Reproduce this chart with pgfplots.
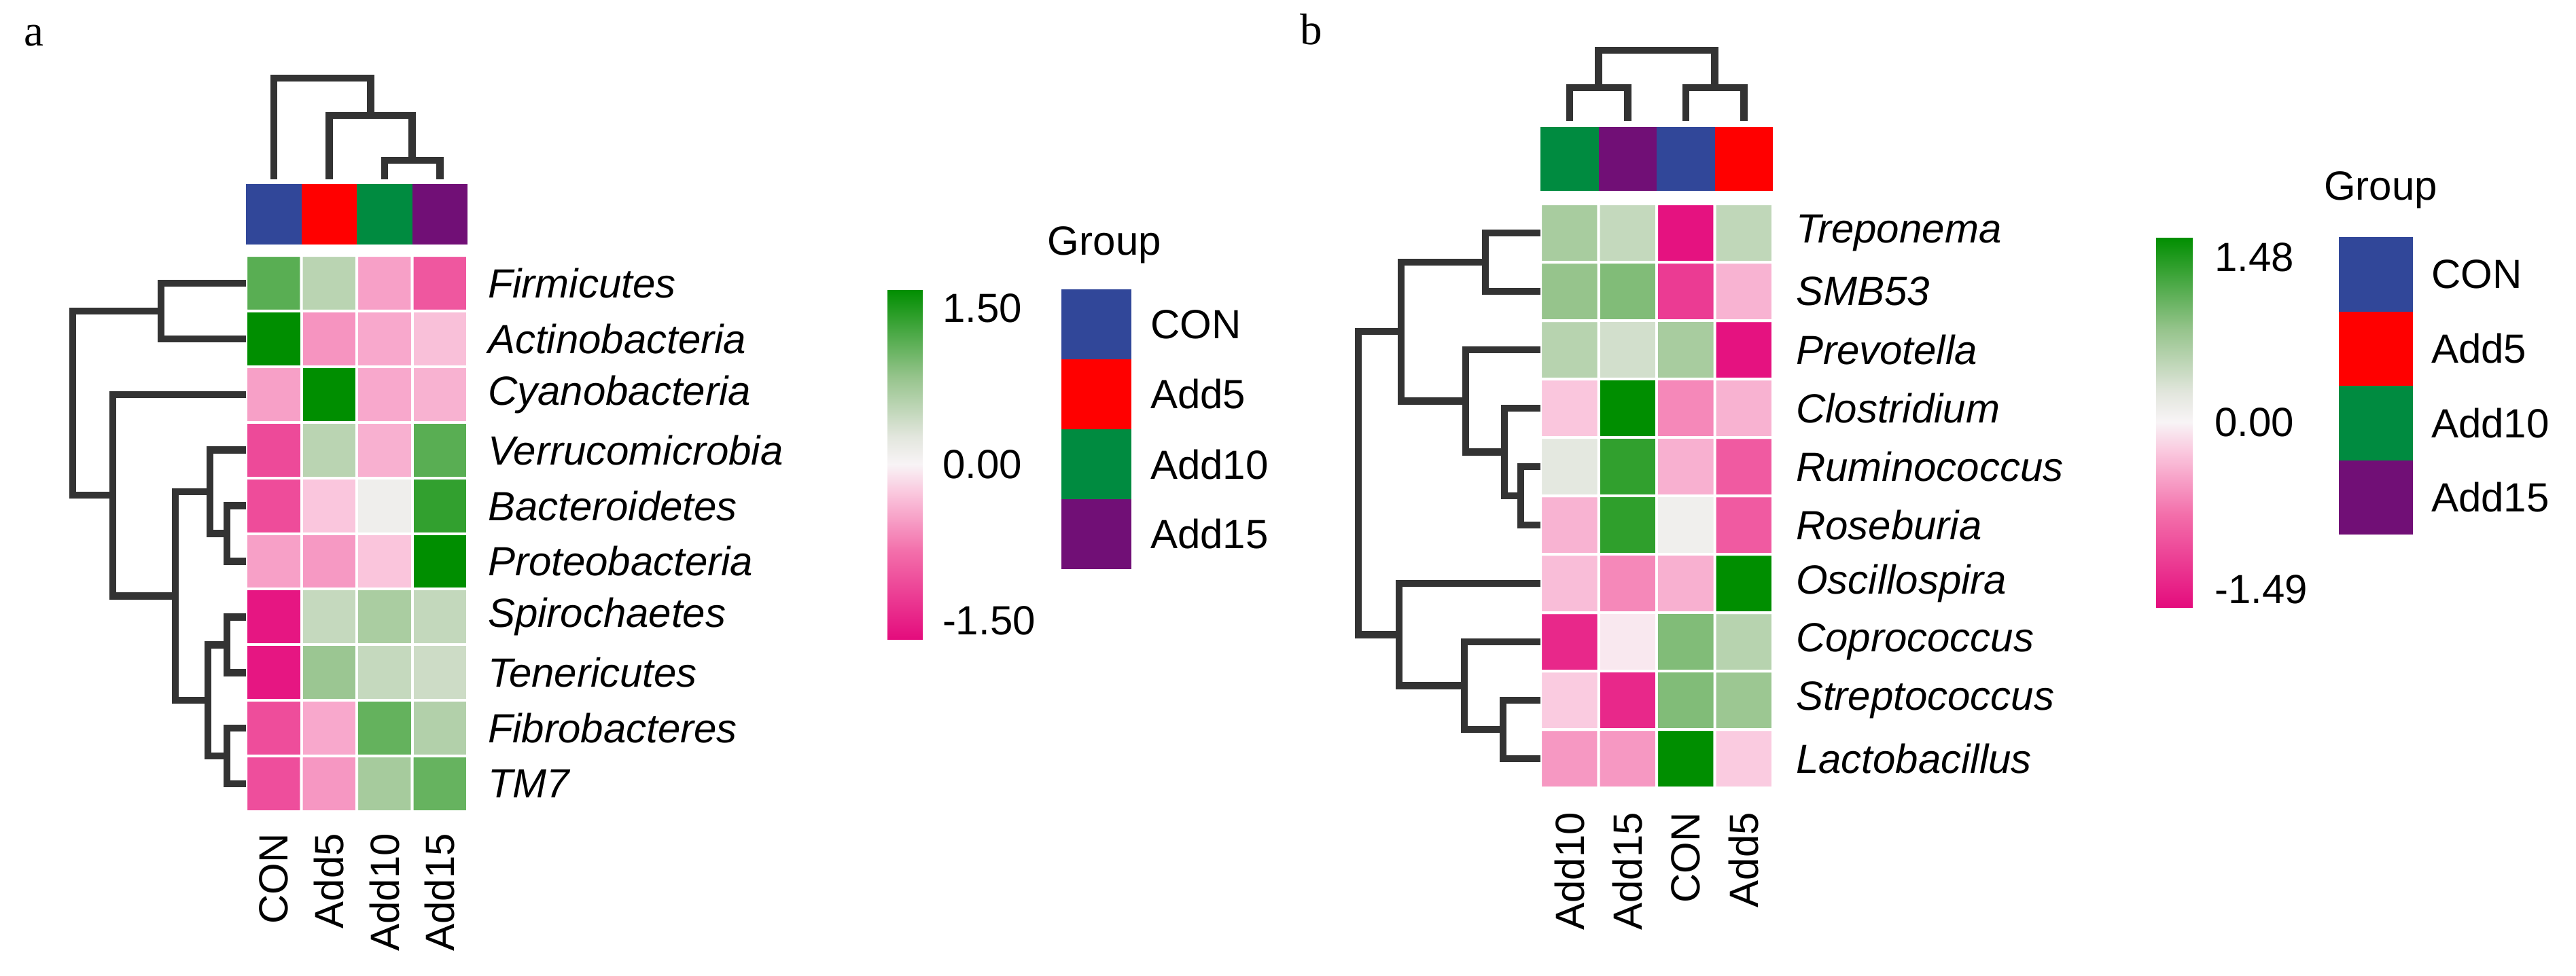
\documentclass[border=0pt]{standalone}
\usepackage{pgfplots}
\pgfplotsset{compat=1.18}
\usepackage{fontspec}
\setmainfont{Liberation Sans}
\newfontfamily\tnr{Liberation Serif}

\definecolor{cCON}{RGB}{49,71,153}
\definecolor{cA5}{RGB}{255,0,0}
\definecolor{cA10}{RGB}{0,139,64}
\definecolor{cA15}{RGB}{113,15,118}
\definecolor{dgray}{RGB}{51,51,51}
\newcommand{\fs}{\fontsize{12}{14}\selectfont}

\pgfplotsset{
  colormap={pkgr}{rgb255(0)=(228,12,125); rgb255(25)=(243,110,170); rgb255(42)=(250,200,222);
    rgb255(50)=(248,244,246); rgb255(58)=(226,230,221); rgb255(75)=(150,196,140); rgb255(100)=(0,142,0)},
  colorbar shift/.style={xshift=0pt},
  dendro/.style={draw=dgray, line width=2.1pt, line join=miter, mark=none},
  heat/.style={
    anchor=north west, scale only axis,
    xmin=0.5, xmax=4.5, ymin=0.5, ymax=10.5,
    enlargelimits=false, clip=false,
    axis line style={draw=none}, tick style={draw=none}, major tick length=0pt,
    xtick={1,2,3,4}, ytick={1,...,10},
    ticklabel style={font=\fs},
    xticklabel style={rotate=90, anchor=east, inner sep=0pt},
    yticklabel pos=right,
    yticklabel style={anchor=west, inner sep=0pt, font=\fs\itshape},
    colormap name=pkgr,
  },
  cbar/.style={
    at={(parent axis.north east)}, anchor=north west,
    scale only axis,
    axis line style={draw=none}, tick style={draw=none}, major tick length=0pt,
    yticklabel style={font=\fs, inner sep=0pt, anchor=west},
  },
}

% panel a: rows bottom to top (TM7 ... Firmicutes), cols CON, Add5, Add10, Add15
\pgfplotstableread{
x y c
1 1 -1.11
2 1 -0.58
3 1 0.72
4 1 1.11
1 2 -1.12
2 2 -0.47
3 2 1.12
4 2 0.63
1 3 -1.59
2 3 0.80
3 3 0.49
4 3 0.43
1 4 -1.59
2 4 0.49
3 4 0.69
4 4 0.50
1 5 -0.52
2 5 -0.57
3 5 -0.29
4 5 1.68
1 6 -1.13
2 6 -0.28
3 6 0.11
4 6 1.40
1 7 -1.15
2 7 0.57
3 7 -0.42
4 7 1.18
1 8 -0.52
2 8 1.68
3 8 -0.47
4 8 -0.41
1 9 1.68
2 9 -0.60
3 9 -0.47
4 9 -0.32
1 10 1.18
2 10 0.57
3 10 -0.52
4 10 -1.04
}\phyla

% panel b: rows bottom to top (Lactobacillus ... Treponema), cols Add10, Add15, CON, Add5
\pgfplotstableread{
x y c
1 1 -0.56
2 1 -0.56
3 1 1.66
4 1 -0.24
1 2 -0.24
2 2 -1.41
3 2 0.95
4 2 0.79
1 3 -1.41
2 3 -0.07
3 3 0.95
4 3 0.59
1 4 -0.33
2 4 -0.66
3 4 -0.41
4 4 1.66
1 5 -0.39
2 5 1.40
3 5 0.10
4 5 -0.99
1 6 0.24
2 6 1.39
3 6 -0.41
4 6 -0.99
1 7 -0.27
2 7 1.66
3 7 -0.66
4 7 -0.40
1 8 0.59
2 8 0.39
3 8 0.70
4 8 -1.60
1 9 0.83
2 9 0.95
3 9 -1.25
4 9 -0.39
1 10 0.70
2 10 0.49
3 10 -1.60
4 10 0.52
}\genera

\begin{document}
\begin{tikzpicture}
\useasboundingbox (0,0) rectangle (758.2pt,-287.2pt);

\node[anchor=base west, inner sep=0pt, font=\tnr\fontsize{13}{15}\selectfont] at (7pt,-13.4pt) {a};
\node[anchor=base west, inner sep=0pt, font=\tnr\fontsize{13}{15}\selectfont] at (382.4pt,-13pt) {b};

% ---------------- panel a ----------------
\begin{axis}[heat,
  at={(72.4pt,-75.2pt)}, x=16.3pt, y=16.38pt,
  xticklabels={CON,Add5,Add10,Add15},
  xticklabel shift=6.2pt, yticklabel shift=5.8pt,
  yticklabels={TM7,Fibrobacteres,Tenericutes,Spirochaetes,Proteobacteria,
    Bacteroidetes,Verrucomicrobia,Cyanobacteria,Actinobacteria,Firmicutes},
  point meta min=-1.68, point meta max=1.68,
  colorbar,
  colorbar style={cbar, xshift=123.6pt, yshift=-10pt, width=10.4pt, height=103pt,
    ytick={-1.5,0,1.5}, yticklabels={-1.50,0.00,1.50}, yticklabel shift=5.6pt},
]
\addplot[matrix plot*, mesh/cols=4, point meta=explicit, shader=faceted,
  faceted color=white, line width=0.8pt] table[meta=c] {\phyla};

% group bar
\addplot[fill=cCON, draw=none] coordinates {(0.5,10.695) (1.5,10.695) (1.5,11.782) (0.5,11.782)};
\addplot[fill=cA5,  draw=none] coordinates {(1.5,10.695) (2.5,10.695) (2.5,11.782) (1.5,11.782)};
\addplot[fill=cA10, draw=none] coordinates {(2.5,10.695) (3.5,10.695) (3.5,11.782) (2.5,11.782)};
\addplot[fill=cA15, draw=none] coordinates {(3.5,10.695) (4.5,10.695) (4.5,11.782) (3.5,11.782)};

% column tree
\addplot[dendro] coordinates {(3,11.868) (3,12.209) (4,12.209) (4,11.868)};
\addplot[dendro] coordinates {(2,11.868) (2,13.015) (3.5,13.015) (3.5,12.209)};
\addplot[dendro] coordinates {(1,11.868) (1,13.687) (2.75,13.687) (2.75,13.015)};

% row tree
\addplot[dendro] coordinates {(0.5,10) (-1.034,10) (-1.034,9) (0.5,9)};
\addplot[dendro] coordinates {(0.5,6) (0.156,6) (0.156,5) (0.5,5)};
\addplot[dendro] coordinates {(0.5,7) (-0.150,7) (-0.150,5.5) (0.156,5.5)};
\addplot[dendro] coordinates {(0.5,4) (0.156,4) (0.156,3) (0.5,3)};
\addplot[dendro] coordinates {(0.5,2) (0.156,2) (0.156,1) (0.5,1)};
\addplot[dendro] coordinates {(0.156,3.5) (-0.187,3.5) (-0.187,1.5) (0.156,1.5)};
\addplot[dendro] coordinates {(-0.150,6.25) (-0.776,6.25) (-0.776,2.5) (-0.187,2.5)};
\addplot[dendro] coordinates {(0.5,8) (-1.905,8) (-1.905,4.375) (-0.776,4.375)};
\addplot[dendro] coordinates {(-1.034,9.5) (-2.629,9.5) (-2.629,6.1875) (-1.905,6.1875)};

% group legend
\node[anchor=base west, inner sep=0pt, font=\fs] at (axis cs:14.966,10.51) {Group};
\addplot[fill=cCON, draw=none] coordinates {(15.224,9.890) (16.488,9.890) (16.488,8.632) (15.224,8.632)};
\addplot[fill=cA5,  draw=none] coordinates {(15.224,8.632) (16.488,8.632) (16.488,7.374) (15.224,7.374)};
\addplot[fill=cA10, draw=none] coordinates {(15.224,7.374) (16.488,7.374) (16.488,6.116) (15.224,6.116)};
\addplot[fill=cA15, draw=none] coordinates {(15.224,6.116) (16.488,6.116) (16.488,4.859) (15.224,4.859)};
\node[anchor=west, inner sep=0pt, font=\fs] at (axis cs:16.819,9.261) {CON};
\node[anchor=west, inner sep=0pt, font=\fs] at (axis cs:16.819,8.003) {Add5};
\node[anchor=west, inner sep=0pt, font=\fs] at (axis cs:16.819,6.745) {Add10};
\node[anchor=west, inner sep=0pt, font=\fs] at (axis cs:16.819,5.488) {Add15};
\end{axis}

% ---------------- panel b ----------------
\begin{axis}[heat,
  at={(453.4pt,-60pt)}, x=17.1pt, y=17.2pt,
  xticklabels={Add10,Add15,CON,Add5},
  xticklabel shift=7pt, yticklabel shift=6.6pt,
  yticklabels={Lactobacillus,Streptococcus,Coprococcus,Oscillospira,Roseburia,
    Ruminococcus,Clostridium,Prevotella,SMB53,Treponema},
  point meta min=-1.65, point meta max=1.66,
  colorbar,
  colorbar style={cbar, xshift=112.8pt, yshift=-9.8pt, width=10.8pt, height=109pt,
    ytick={-1.49,0,1.48}, yticklabels={-1.49,0.00,1.48}, yticklabel shift=6.2pt},
]
\addplot[matrix plot*, mesh/cols=4, point meta=explicit, shader=faceted,
  faceted color=white, line width=0.8pt] table[meta=c] {\genera};

% group bar
\addplot[fill=cA10, draw=none] coordinates {(0.5,10.721) (1.5,10.721) (1.5,11.814) (0.5,11.814)};
\addplot[fill=cA15, draw=none] coordinates {(1.5,10.721) (2.5,10.721) (2.5,11.814) (1.5,11.814)};
\addplot[fill=cCON, draw=none] coordinates {(2.5,10.721) (3.5,10.721) (3.5,11.814) (2.5,11.814)};
\addplot[fill=cA5,  draw=none] coordinates {(3.5,10.721) (4.5,10.721) (4.5,11.814) (3.5,11.814)};

% column tree
\addplot[dendro] coordinates {(1,11.919) (1,12.488) (2,12.488) (2,11.919)};
\addplot[dendro] coordinates {(3,11.919) (3,12.488) (4,12.488) (4,11.919)};
\addplot[dendro] coordinates {(1.5,12.488) (1.5,13.128) (3.5,13.128) (3.5,12.488)};

% row tree
\addplot[dendro] coordinates {(0.5,10) (-0.447,10) (-0.447,9) (0.5,9)};
\addplot[dendro] coordinates {(0.5,6) (0.161,6) (0.161,5) (0.5,5)};
\addplot[dendro] coordinates {(0.5,7) (-0.120,7) (-0.120,5.5) (0.161,5.5)};
\addplot[dendro] coordinates {(0.5,8) (-0.787,8) (-0.787,6.25) (-0.120,6.25)};
\addplot[dendro] coordinates {(-0.447,9.5) (-1.898,9.5) (-1.898,7.125) (-0.787,7.125)};
\addplot[dendro] coordinates {(0.5,2) (-0.143,2) (-0.143,1) (0.5,1)};
\addplot[dendro] coordinates {(0.5,3) (-0.810,3) (-0.810,1.5) (-0.143,1.5)};
\addplot[dendro] coordinates {(0.5,4) (-1.933,4) (-1.933,2.25) (-0.810,2.25)};
\addplot[dendro] coordinates {(-1.898,8.3125) (-2.635,8.3125) (-2.635,3.125) (-1.933,3.125)};

% group legend
\node[anchor=base west, inner sep=0pt, font=\fs] at (axis cs:13.974,10.57) {Group};
\addplot[fill=cCON, draw=none] coordinates {(14.243,9.930) (15.518,9.930) (15.518,8.657) (14.243,8.657)};
\addplot[fill=cA5,  draw=none] coordinates {(14.243,8.657) (15.518,8.657) (15.518,7.384) (14.243,7.384)};
\addplot[fill=cA10, draw=none] coordinates {(14.243,7.384) (15.518,7.384) (15.518,6.110) (14.243,6.110)};
\addplot[fill=cA15, draw=none] coordinates {(14.243,6.110) (15.518,6.110) (15.518,4.837) (14.243,4.837)};
\node[anchor=west, inner sep=0pt, font=\fs] at (axis cs:15.822,9.293) {CON};
\node[anchor=west, inner sep=0pt, font=\fs] at (axis cs:15.822,8.020) {Add5};
\node[anchor=west, inner sep=0pt, font=\fs] at (axis cs:15.822,6.747) {Add10};
\node[anchor=west, inner sep=0pt, font=\fs] at (axis cs:15.822,5.474) {Add15};
\end{axis}
\end{tikzpicture}
\end{document}
